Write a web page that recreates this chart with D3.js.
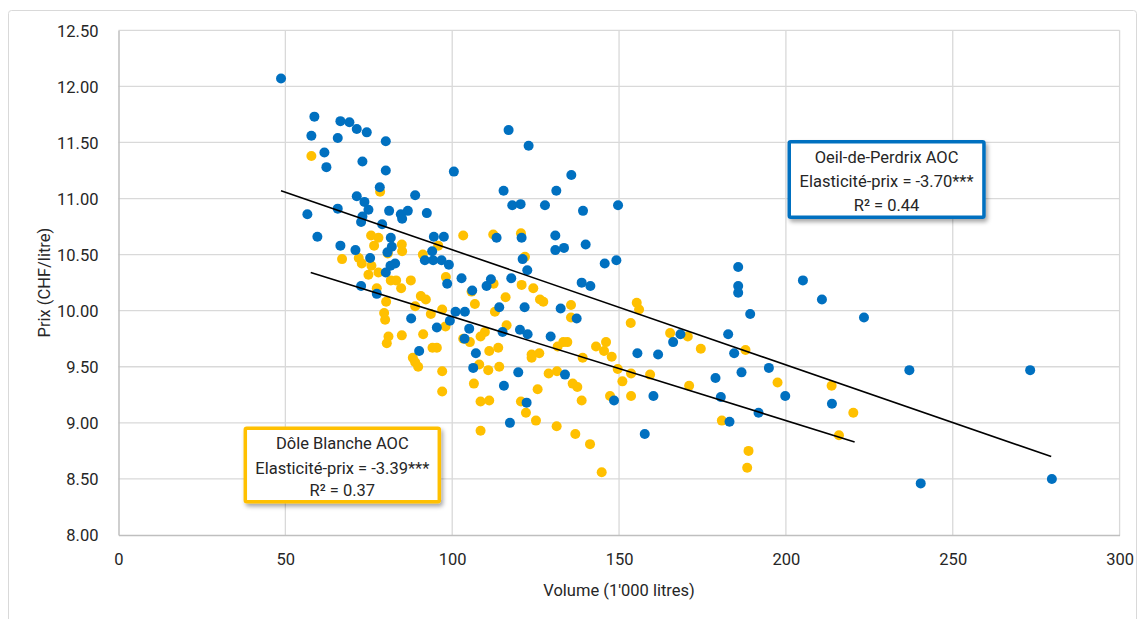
<!DOCTYPE html>
<html>
<head>
<meta charset="utf-8">
<script src="https://cdn.jsdelivr.net/npm/d3@7"></script>
<style>
  html, body { margin: 0; padding: 0; background: #ffffff; }
  svg { display: block; }
  text { font-family: 'Roboto', 'Liberation Sans', sans-serif; fill: #262626; }
</style>
</head>
<body>
<svg id="chart" width="1144" height="619"></svg>
<script>
// ---------------- DATA ----------------
const xTickValues = [0, 50, 100, 150, 200, 250, 300];
const xTickLabels = ["0", "50", "100", "150", "200", "250", "300"];
const yTickValues = [8.0, 8.5, 9.0, 9.5, 10.0, 10.5, 11.0, 11.5, 12.0, 12.5];
const yTickLabels = ["8.00", "8.50", "9.00", "9.50", "10.00", "10.50", "11.00", "11.50", "12.00", "12.50"];

const xTitle = "Volume (1'000 litres)";
const yTitle = "Prix (CHF/litre)";

// Oeil-de-Perdrix AOC (blue)
const perdrixVolume = [
  48.7, 58.7, 57.8, 66.5, 69.2, 71.4, 74.4, 65.7, 80.1, 61.7,
  62.3, 73.1, 80.1, 78.3, 71.4, 73.7, 74.9, 81.1, 65.7, 56.6,
  73.1, 72.7, 79.0, 59.6, 81.6, 81.9, 66.5, 71.0, 80.6, 75.4,
  80.1, 82.9, 81.5, 72.7, 77.4, 100.5, 88.9, 84.6, 86.7, 85.0,
  92.4, 94.5, 97.5, 94.0, 91.8, 94.3, 96.8, 99.0, 102.8, 98.5,
  87.7, 95.4, 99.3, 101.0, 103.8, 90.1, 116.9, 122.9, 135.7, 115.4,
  131.2, 118.0, 120.5, 127.8, 139.2, 149.7, 113.3, 120.8, 130.9, 130.9,
  133.5, 140.0, 121.1, 122.5, 145.7, 149.2, 111.6, 110.3, 106.0, 117.7,
  138.8, 141.4, 114.1, 121.7, 132.5, 137.3, 105.1, 103.7, 115.1, 120.3,
  122.6, 129.5, 107.1, 106.3, 119.8, 133.8, 115.5, 122.3, 117.3, 155.5,
  160.3, 148.5, 157.7, 185.7, 185.7, 185.7, 205.1, 210.8, 189.3, 223.4,
  182.7, 168.4, 166.2, 161.7, 184.5, 186.7, 178.9, 194.9, 237.0, 273.2,
  180.5, 199.8, 213.8, 191.8, 183.1, 240.4, 279.7
];
const perdrixPrice = [
  12.07, 11.73, 11.56, 11.69, 11.68, 11.62, 11.59, 11.54, 11.51, 11.41,
  11.28, 11.33, 11.25, 11.10, 11.02, 10.97, 10.90, 10.89, 10.91, 10.86,
  10.84, 10.79, 10.77, 10.66, 10.65, 10.57, 10.58, 10.54, 10.52, 10.47,
  10.34, 10.42, 10.40, 10.22, 10.15, 11.24, 11.03, 10.86, 10.89, 10.82,
  10.87, 10.66, 10.66, 10.53, 10.45, 10.45, 10.45, 10.41, 10.29, 10.24,
  9.93, 9.85, 9.91, 9.99, 9.99, 9.64, 11.61, 11.47, 11.21, 11.07,
  11.07, 10.94, 10.95, 10.94, 10.89, 10.94, 10.65, 10.65, 10.67, 10.54,
  10.56, 10.59, 10.46, 10.36, 10.42, 10.45, 10.28, 10.22, 10.18, 10.29,
  10.25, 10.22, 10.03, 10.03, 10.02, 9.93, 9.84, 9.75, 9.81, 9.83,
  9.79, 9.77, 9.62, 9.49, 9.45, 9.43, 9.33, 9.18, 9.00, 9.62,
  9.24, 9.20, 8.90, 10.39, 10.22, 10.16, 10.27, 10.10, 9.97, 9.94,
  9.79, 9.79, 9.72, 9.61, 9.62, 9.45, 9.40, 9.49, 9.47, 9.47,
  9.23, 9.24, 9.17, 9.09, 9.01, 8.46, 8.50
];

// Dôle Blanche AOC (yellow)
const doleVolume = [
  57.8, 78.4, 75.7, 77.9, 76.6, 84.9, 85.0, 67.0, 72.0, 72.9,
  75.8, 77.9, 74.9, 80.7, 91.2, 95.8, 103.3, 98.1, 81.6, 83.2,
  87.6, 84.7, 77.4, 80.2, 79.6, 79.9, 80.9, 80.4, 84.9, 88.9,
  90.6, 92.1, 93.6, 97.0, 98.0, 91.3, 94.1, 95.4, 88.2, 88.9,
  89.8, 97.0, 97.0, 103.3, 112.3, 120.6, 121.8, 112.4, 105.8, 120.8,
  124.3, 116.0, 126.3, 127.3, 106.8, 135.6, 155.3, 156.0, 112.8, 135.6,
  153.5, 116.3, 109.8, 108.5, 105.3, 113.8, 111.1, 131.6, 133.3, 134.5,
  143.1, 146.1, 145.5, 147.8, 139.1, 123.8, 126.1, 123.8, 108.1, 110.8,
  114.1, 106.5, 128.9, 131.4, 136.1, 137.5, 125.6, 138.8, 149.6, 153.6,
  151.0, 147.3, 153.6, 159.3, 108.5, 111.1, 120.6, 122.1, 125.1, 131.3,
  136.9, 141.3, 144.8, 108.5, 165.3, 170.6, 174.5, 187.9, 171.0, 197.5,
  213.7, 180.8, 220.2, 215.9, 188.8, 188.4
];
const dolePrice = [
  11.38, 11.06, 10.67, 10.65, 10.58, 10.59, 10.53, 10.46, 10.47, 10.42,
  10.40, 10.34, 10.32, 10.51, 10.50, 10.58, 10.67, 10.30, 10.27, 10.27,
  10.27, 10.20, 10.20, 10.08, 9.98, 9.92, 9.77, 9.71, 9.78, 10.04,
  10.13, 10.10, 9.97, 10.01, 9.86, 9.79, 9.67, 9.67, 9.58, 9.54,
  9.50, 9.46, 9.28, 9.75, 10.68, 10.69, 10.48, 10.24, 10.17, 10.23,
  10.20, 10.12, 10.10, 10.08, 10.06, 10.05, 10.07, 10.01, 9.99, 9.94,
  9.89, 9.87, 9.81, 9.77, 9.72, 9.67, 9.64, 9.68, 9.72, 9.72,
  9.68, 9.72, 9.64, 9.59, 9.58, 9.61, 9.62, 9.58, 9.52, 9.47,
  9.50, 9.35, 9.44, 9.46, 9.35, 9.32, 9.30, 9.20, 9.48, 9.44,
  9.37, 9.24, 9.24, 9.43, 9.19, 9.20, 9.19, 9.09, 9.02, 8.97,
  8.90, 8.81, 8.56, 8.93, 9.80, 9.77, 9.66, 9.65, 9.33, 9.36,
  9.33, 9.02, 9.09, 8.89, 8.75, 8.60
];

// Trend lines (start / end)
const perdrixTrendX = [48.7, 279.5];
const perdrixTrendY = [11.07, 8.70];
const doleTrendX = [57.6, 220.6];
const doleTrendY = [10.34, 8.83];

const perdrixBoxLines = ["Oeil-de-Perdrix AOC", "Elasticité-prix = -3.70***", "R² = 0.44"];
const doleBoxLines = ["Dôle Blanche AOC", "Elasticité-prix = -3.39***", "R² = 0.37"];

// ---------------- DRAW ----------------
const svg = d3.select("#chart");
const plot = { left: 118.5, right: 1119.6, top: 30.3, bottom: 535 };
const BLUE = "#0070C0", YELLOW = "#FFC000";
const FONT = "'Roboto', 'Liberation Sans', sans-serif";

const x = d3.scaleLinear().domain([0, 300]).range([plot.left, plot.right]);
const y = d3.scaleLinear().domain([8, 12.5]).range([plot.bottom, plot.top]);

const defs = svg.append("defs");
const f = defs.append("filter").attr("id", "shadow")
  .attr("x", "-10%").attr("y", "-20%").attr("width", "130%").attr("height", "150%");
f.append("feDropShadow").attr("dx", 2).attr("dy", 3).attr("stdDeviation", 2)
  .attr("flood-color", "#000").attr("flood-opacity", 0.35);

// outer chart frame
svg.append("rect").attr("x", 8.5).attr("y", 10.5).attr("width", 1128).attr("height", 640)
  .attr("rx", 3).attr("fill", "#fff").attr("stroke", "#d9d9d9").attr("stroke-width", 1);

// grid
const grid = svg.append("g");
grid.selectAll("line.v").data(xTickValues.slice(1)).join("line")
  .attr("x1", d => x(d)).attr("x2", d => x(d))
  .attr("y1", plot.top).attr("y2", plot.bottom)
  .attr("stroke", "#d9d9d9").attr("stroke-width", 1.3);
grid.selectAll("line.h").data(yTickValues.slice(1)).join("line")
  .attr("x1", plot.left).attr("x2", plot.right)
  .attr("y1", d => y(d)).attr("y2", d => y(d))
  .attr("stroke", "#d9d9d9").attr("stroke-width", 1.3);

// axes
const xAxis = d3.axisBottom(x).tickValues(xTickValues)
  .tickFormat((d, i) => xTickLabels[i]).tickSize(0).tickPadding(18);
const yAxis = d3.axisLeft(y).tickValues(yTickValues)
  .tickFormat((d, i) => yTickLabels[i]).tickSize(0).tickPadding(20);

const gx = svg.append("g").attr("transform", `translate(0,${plot.bottom})`).call(xAxis);
const gy = svg.append("g").attr("transform", `translate(${plot.left},0)`).call(yAxis);
[gx, gy].forEach(g => {
  g.select(".domain").attr("stroke", "#bfbfbf").attr("stroke-width", 1.5);
  g.selectAll("text").attr("font-size", 16.5).attr("font-family", FONT).attr("fill", "#262626");
});
gy.selectAll("text").attr("dy", "0.35em");

// axis titles
svg.append("text").attr("x", (plot.left + plot.right) / 2).attr("y", 596)
  .attr("text-anchor", "middle").attr("font-size", 16.5).text(xTitle);
svg.append("text").attr("transform", `translate(50,${(plot.top + plot.bottom) / 2}) rotate(-90)`)
  .attr("text-anchor", "middle").attr("font-size", 16.5).text(yTitle);

// points
const dole = doleVolume.map((v, i) => ({ v, p: dolePrice[i] }));
const perdrix = perdrixVolume.map((v, i) => ({ v, p: perdrixPrice[i] }));

svg.append("g").selectAll("circle").data(dole).join("circle")
  .attr("cx", d => x(d.v)).attr("cy", d => y(d.p)).attr("r", 5).attr("fill", YELLOW);
svg.append("g").selectAll("circle").data(perdrix).join("circle")
  .attr("cx", d => x(d.v)).attr("cy", d => y(d.p)).attr("r", 5).attr("fill", BLUE);

// trend lines
const line = d3.line().x(d => x(d[0])).y(d => y(d[1]));
svg.append("path").attr("d", line(perdrixTrendX.map((v, i) => [v, perdrixTrendY[i]])))
  .attr("stroke", "#000").attr("stroke-width", 1.6).attr("fill", "none");
svg.append("path").attr("d", line(doleTrendX.map((v, i) => [v, doleTrendY[i]])))
  .attr("stroke", "#000").attr("stroke-width", 1.6).attr("fill", "none");

// annotation boxes
function box(cx, top, w, h, color, lines, baselines) {
  const g = svg.append("g");
  g.append("rect").attr("x", cx - w / 2).attr("y", top).attr("width", w).attr("height", h)
    .attr("fill", "#fff").attr("stroke", color).attr("stroke-width", 3.5).attr("rx", 1.5)
    .attr("filter", "url(#shadow)");
  g.selectAll("text").data(lines).join("text")
    .attr("x", cx).attr("y", (d, i) => top + baselines[i])
    .attr("text-anchor", "middle").attr("font-size", 16.5).text(d => d);
}
box(886.6, 141.7, 194.7, 75.6, BLUE, perdrixBoxLines, [21.5, 45, 69]);
box(342.3, 428.3, 194, 73.4, YELLOW, doleBoxLines, [21, 45.7, 67.7]);
</script>
</body>
</html>
